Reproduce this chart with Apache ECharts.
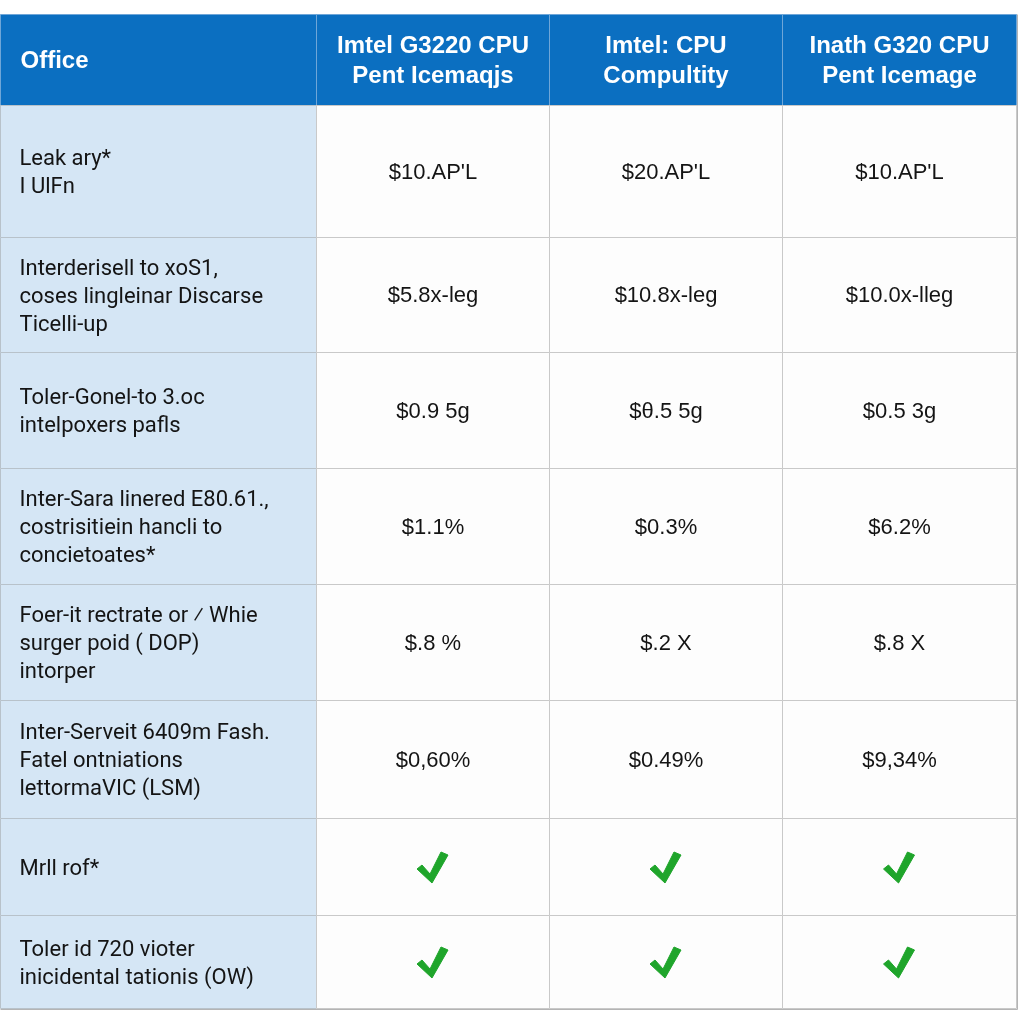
<!DOCTYPE html>
<html>
<head>
<meta charset="utf-8">
<script src="https://cdn.jsdelivr.net/npm/echarts@6/dist/echarts.min.js"></script>
<style>
  html, body { margin: 0; padding: 0; background: #fff; }
  #chart { width: 1024px; height: 1024px; }
</style>
</head>
<body>
<div id="chart"></div>
<script>
// table content
const headers = [
  'Office',
  'Imtel G3220 CPU\nPent Icemaqjs',
  'Imtel: CPU\nCompultity',
  'Inath G320 CPU\nPent Icemage'
]
const rowLabels = [
  'Leak ary*\nI UlFn',
  'Interderisell to xoS1,\ncoses lingleinar Discarse\nTicelli-up',
  'Toler-Gonel-to 3.oc\nintelpoxers pafls',
  'Inter-Sara linered E80.61.,\ncostrisitiein hancli to\nconcietoates*',
  'Foer-it rectrate or \u2044 Whie\nsurger poid ( DOP)\nintorper',
  'Inter-Serveit 6409m Fash.\nFatel ontniations\nlettormaVIC (LSM)',
  'Mrll rof*',
  'Toler id 720 vioter\ninicidental tationis (OW)'
]
const CHECK = true
const col1Values = ["$10.AP'L", '$5.8x-leg', '$0.9 5g', '$1.1%', '$.8 %', '$0,60%', CHECK, CHECK]
const col2Values = ["$20.AP'L", '$10.8x-leg', '$\u03b8.5 5g', '$0.3%', '$.2 X', '$0.49%', CHECK, CHECK]
const col3Values = ["$10.AP'L", '$10.0x-lleg', '$0.5 3g', '$6.2%', '$.8 X', '$9,34%', CHECK, CHECK]

// layout (px widths / heights of the table tracks)
const colWidths = [316, 233, 233, 234]
const rowHeights = [91, 132, 115, 116, 116, 116, 118, 97, 93]
const colStart = colWidths.map((w, i) => colWidths.slice(0, i).reduce((a, b) => a + b, 0))
const rowStart = rowHeights.map((h, i) => rowHeights.slice(0, i).reduce((a, b) => a + b, 0))
const totalW = colWidths.reduce((a, b) => a + b, 0)
const totalH = rowHeights.reduce((a, b) => a + b, 0)

const ARIAL = '"Liberation Sans", Arial, sans-serif'

// build cells
const cells = []
headers.forEach((h, c) => cells.push({ col: c, row: 0, kind: 'header', text: h }))
const valueCols = [col1Values, col2Values, col3Values]
rowLabels.forEach((label, r) => {
  cells.push({ col: 0, row: r + 1, kind: 'label', text: label })
  valueCols.forEach((vals, c) => {
    const v = vals[r]
    cells.push({ col: c + 1, row: r + 1, kind: v === CHECK ? 'check' : 'value', text: v === CHECK ? '' : v })
  })
})

const chart = echarts.init(document.getElementById('chart'), null, { renderer: 'canvas' })

function renderCell(params, api) {
  const cell = cells[params.dataIndex]
  const c = api.value(0)
  const r = api.value(1)
  const p0 = api.coord([colStart[c], rowStart[r]])
  const p1 = api.coord([colStart[c] + colWidths[c], rowStart[r] + rowHeights[r]])
  const x = Math.round(p0[0]) + 0.5
  const y = Math.round(p0[1]) + 0.5
  const w = Math.round(p1[0]) - Math.round(p0[0])
  const h = Math.round(p1[1]) - Math.round(p0[1])
  const cy = y + h / 2

  const children = []
  let fill = '#fdfdfd'
  let stroke = '#c9c9c9'
  if (cell.kind === 'header') { fill = '#0b6fc1'; stroke = '#6fa6d8' }
  if (cell.kind === 'label') { fill = '#d5e6f5'; stroke = '#b8c2ca' }
  children.push({
    type: 'rect',
    shape: { x: x, y: y, width: w, height: h },
    style: { fill: fill, stroke: stroke, lineWidth: 1 }
  })
  // soft outer frame on the right and bottom edge
  if (c === colWidths.length - 1) {
    children.push({ type: 'line', shape: { x1: x + w + 1, y1: y, x2: x + w + 1, y2: y + h + 1 }, style: { stroke: '#b4b4b4', lineWidth: 1 } })
  }
  if (r === rowHeights.length - 1) {
    children.push({ type: 'line', shape: { x1: x, y1: y + h + 1, x2: x + w + 1, y2: y + h + 1 }, style: { stroke: '#b4b4b4', lineWidth: 1 } })
  }

  if (cell.kind === 'header') {
    const left = c === 0
    children.push({
      type: 'text',
      style: {
        text: cell.text,
        x: left ? x + 20 : x + w / 2,
        y: cy + 1,
        align: left ? 'left' : 'center',
        verticalAlign: 'middle',
        fill: '#ffffff',
        font: 'bold 24px ' + ARIAL,
        lineHeight: 30
      }
    })
  } else if (cell.kind === 'label') {
    children.push({
      type: 'text',
      style: {
        text: cell.text,
        x: x + 19,
        y: cy + 2,
        align: 'left',
        verticalAlign: 'middle',
        fill: '#141414',
        font: '22px Roboto, sans-serif',
        lineHeight: 28
      }
    })
  } else if (cell.kind === 'value') {
    children.push({
      type: 'text',
      style: {
        text: cell.text,
        x: x + w / 2,
        y: cy + 1,
        align: 'center',
        verticalAlign: 'middle',
        fill: '#141414',
        font: '22px ' + ARIAL
      }
    })
  } else {
    const cx = x + w / 2
    const pts = [[-16, 2], [-11, -2], [-3, 7], [8, -15], [15, -12], [-1, 16]]
    children.push({
      type: 'polygon',
      shape: { points: pts.map(p => [cx + p[0], cy + p[1]]) },
      style: { fill: '#1fa52b', stroke: '#1fa52b', lineWidth: 1, lineJoin: 'round' }
    })
  }
  return { type: 'group', children: children }
}

chart.setOption({
  animation: false,
  backgroundColor: '#ffffff',
  grid: { left: 0, top: 14, width: totalW, height: totalH },
  xAxis: { type: 'value', min: 0, max: totalW, show: false },
  yAxis: { type: 'value', min: 0, max: totalH, inverse: true, show: false },
  series: [{
    type: 'custom',
    silent: true,
    renderItem: renderCell,
    encode: { x: 0, y: 1 },
    data: cells.map(cell => [cell.col, cell.row])
  }]
})

window.addEventListener('resize', () => chart.resize())
</script>
</body>
</html>
